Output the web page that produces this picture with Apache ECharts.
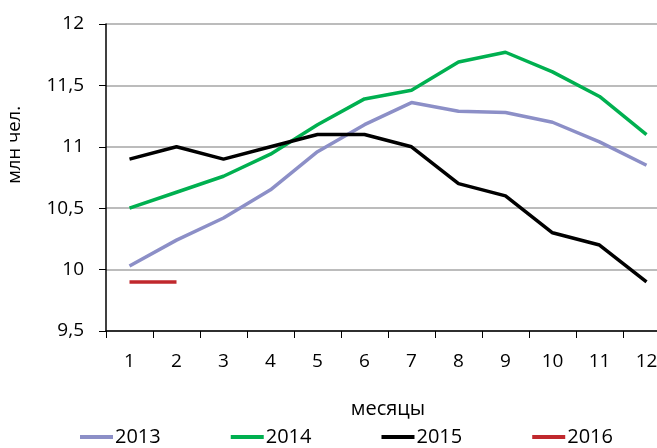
<!DOCTYPE html>
<html>
<head>
<meta charset="utf-8">
<script src="https://cdn.jsdelivr.net/npm/echarts@6/dist/echarts.min.js"></script>
<style>
html,body{margin:0;padding:0;background:#fff;}
#c{width:657px;height:448px;}
</style>
</head>
<body>
<div id="c"></div>
<script>
var months = ['1','2','3','4','5','6','7','8','9','10','11','12'];
var s2013 = [10.03, 10.24, 10.42, 10.65, 10.96, 11.18, 11.36, 11.29, 11.28, 11.20, 11.04, 10.85];
var s2014 = [10.50, 10.63, 10.76, 10.94, 11.18, 11.39, 11.46, 11.69, 11.77, 11.61, 11.41, 11.10];
var s2015 = [10.90, 11.00, 10.90, 11.00, 11.10, 11.10, 11.00, 10.70, 10.60, 10.30, 10.20, 9.90];
var s2016 = [9.90, 9.90];
var seriesNames = ['2013', '2014', '2015', '2016'];
var colors = ['#8C8FC7', '#00B050', '#000000', '#C0282D'];

var FONT = 'Open Sans';
var chart = echarts.init(document.getElementById('c'));
function mk(name, data, color) {
  return {
    name: name, type: 'line', data: data, symbol: 'none',
    lineStyle: {width: 3.5, color: color}, itemStyle: {color: color},
    emphasis: {disabled: true}
  };
}
chart.setOption({
  animation: false,
  textStyle: {fontFamily: FONT},
  grid: {left: 106, top: 24, right: -13, bottom: 117, containLabel: false, outerBoundsMode: 'none'},
  legend: {
    data: seriesNames, left: 80, top: 427, padding: 0, icon: 'rect', itemWidth: 33, itemHeight: 4,
    itemGap: 70, textStyle: {fontFamily: FONT, fontSize: 20, color: '#000', padding: [0,0,0,-3]}
  },
  graphic: [{
    type: 'text', left: 5, top: 106, rotation: Math.PI / 2,
    style: {text: 'млн чел.', fontFamily: FONT, fontSize: 18.5, fill: '#000'}
  }],
  xAxis: {
    type: 'category', data: months, boundaryGap: true,
    name: 'месяцы', nameLocation: 'middle', nameGap: 68,
    nameTextStyle: {fontFamily: FONT, fontSize: 20, color: '#000'},
    axisLine: {lineStyle: {color: '#000', width: 1.5}},
    axisTick: {show: true, length: 7, lineStyle: {color: '#000'}},
    axisLabel: {fontFamily: FONT, fontSize: 19, color: '#000', margin: 21}
  },
  yAxis: {
    type: 'value', min: 9.5, max: 12, interval: 0.5,
    axisLine: {show: true, lineStyle: {color: '#000', width: 1.5}},
    axisTick: {show: true, length: 7, lineStyle: {color: '#000'}},
    axisLabel: {fontFamily: FONT, fontSize: 19, color: '#000', margin: 22,
      formatter: function (v) { return String(v).replace('.', ','); }},
    splitLine: {lineStyle: {color: '#A6A6A6', width: 1.5}}
  },
  series: [
    mk('2013', s2013, colors[0]),
    mk('2014', s2014, colors[1]),
    mk('2015', s2015, colors[2]),
    mk('2016', s2016, colors[3])
  ]
});
</script>
</body>
</html>
